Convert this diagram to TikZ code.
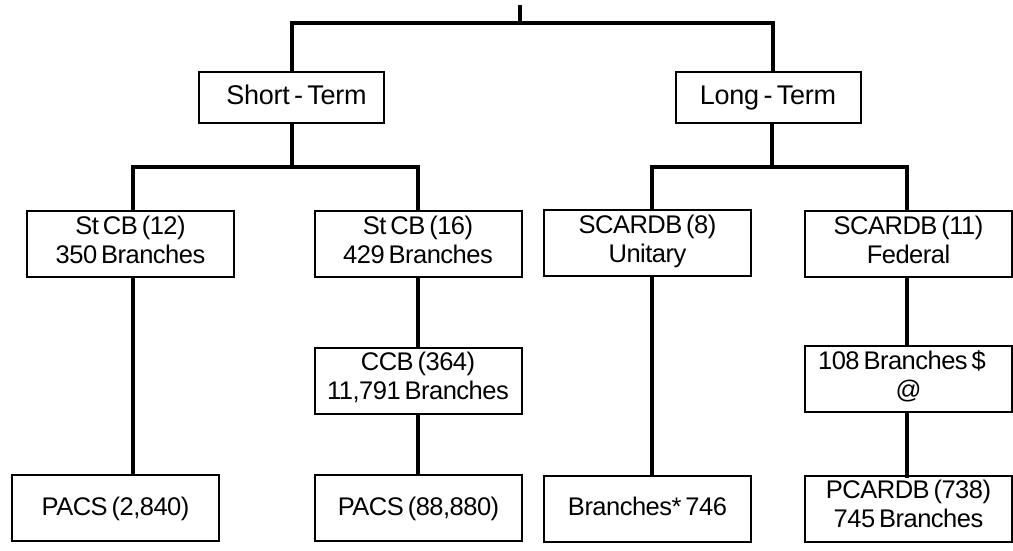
\documentclass[tikz,border=0pt]{standalone}
\usepackage{fontspec}
\setmainfont{Liberation Sans}
\newfontfamily\boxfont[LetterSpace=-2, WordSpace=0.6]{Liberation Sans}
\newfontfamily\termfont[LetterSpace=-1, WordSpace=0.6]{Liberation Sans}
\begin{document}
\begin{tikzpicture}[x=1pt,y=-1pt]
\tikzset{
  box/.style={draw=black, line width=2pt, minimum width=207pt, minimum height=66pt,
    inner sep=0pt, align=center, font=\boxfont\fontsize{25.5}{29}\selectfont,
    execute at begin node=\rule{0pt}{23pt}, execute at end node=\strut},
  termbox/.style={box, minimum width=185pt, minimum height=51pt,
    font=\termfont\fontsize{27}{31}\selectfont},
  conn/.style={draw=black, line width=3.5pt}
}
\useasboundingbox (0,0) rectangle (1013,550);
% level 1
\node[termbox] (st) at (291.5,97.5) {\hspace{10pt}Short - Term};
\node[termbox] (lt) at (768,97.5) {Long - Term};
% level 2
\node[box] (a1) at (130.5,244) {St CB (12)\\350 Branches};
\node[box] (a2) at (418,244) {St CB (16)\\429 Branches};
\node[box] (b1) at (647.5,243) {SCARDB (8)\\Unitary};
\node[box] (b2) at (908.5,244) {SCARDB (11)\\Federal};
% level 3
\node[box] (ccb) at (418,380.5) {CCB (364)\\11,791 Branches};
\node[box] (br) at (908.5,379) {108 Branches \$\kern13pt\\@};
% level 4
\node[box] (p1) at (115.5,508) {PACS (2,840)};
\node[box] (p2) at (418.5,508) {PACS (88,880)};
\node[box] (p3) at (647.5,508.5) {Branches* 746};
\node[box] (p4) at (908.5,508.5) {PCARDB (738)\\745 Branches};
% junctions
\coordinate (top) at (520,5);
\coordinate (j0) at (520,23);
\coordinate (j1) at (292,167);
\coordinate (j2) at (772,167);
% connectors
\draw[conn] (top) -- (j0);
\draw[conn] ([xshift=0.5]st.north) |- (j0);
\draw[conn] (j0) -| ([xshift=5]lt.north);
\draw[conn] ([xshift=0.5]st.south) -- (j1);
\draw[conn] ([xshift=2.5]a1.north) |- (j1) -| (a2.north);
\draw[conn] (lt.south -| j2) -- (j2);
\draw[conn] ([xshift=4.5]b1.north) |- (j2) -| ([xshift=-1.5]b2.north);
\draw[conn] ([xshift=2.5]a1.south) -- ([xshift=2.5]a1.south |- p1.north);
\draw[conn] (a2.south) -- (ccb.north);
\draw[conn] (ccb.south) -- (ccb.south |- p2.north);
\draw[conn] ([xshift=4.5]b1.south) -- ([xshift=4.5]p3.north);
\draw[conn] ([xshift=-1.5]b2.south) -- ([xshift=-1.5]br.north);
\draw[conn] ([xshift=-1.5,yshift=2]br.south) -- ([xshift=-1.5,yshift=-3]p4.north);
\end{tikzpicture}
\end{document}
